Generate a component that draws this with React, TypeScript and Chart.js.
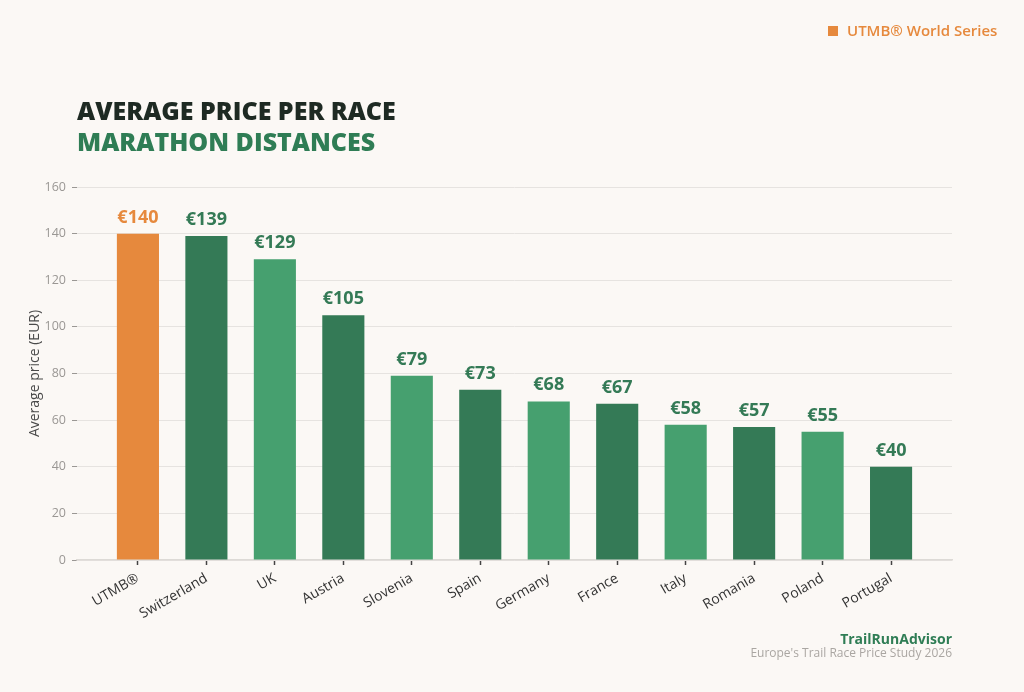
import React, { useEffect, useRef } from "react";
import { Chart, registerables } from "chart.js";

Chart.register(...registerables);

const categories = ["UTMB®", "Switzerland", "UK", "Austria", "Slovenia", "Spain", "Germany", "France", "Italy", "Romania", "Poland", "Portugal"];
const prices = [140, 139, 129, 105, 79, 73, 68, 67, 58, 57, 55, 40];
const yTicks = [0, 20, 40, 60, 80, 100, 120, 140, 160];

const ORANGE = "#E6893D";
const DARK_GREEN = "#347A56";
const LIGHT_GREEN = "#46A06F";
const BG = "#FBF8F5";
const FONT = "'Open Sans', 'DejaVu Sans', sans-serif";

const barColors = categories.map((_, i) => (i === 0 ? ORANGE : i % 2 === 1 ? DARK_GREEN : LIGHT_GREEN));
const labelColors = categories.map((_, i) => (i === 0 ? ORANGE : DARK_GREEN));

const valueLabels = {
  id: "valueLabels",
  afterDatasetsDraw(chart: any) {
    const ctx = chart.ctx;
    const meta = chart.getDatasetMeta(0);
    ctx.save();
    ctx.font = `700 18px ${FONT}`;
    ctx.textAlign = "center";
    ctx.textBaseline = "alphabetic";
    meta.data.forEach((bar: any, i: number) => {
      ctx.fillStyle = labelColors[i];
      ctx.fillText(`€${prices[i]}`, bar.x, bar.y - 11);
    });
    ctx.restore();
  },
};

export default function App() {
  const ref = useRef<HTMLCanvasElement | null>(null);

  useEffect(() => {
    if (!ref.current) return;
    const chart = new Chart(ref.current, {
      type: "bar",
      data: {
        datasets: [
          {
            data: prices.map((v, i) => ({ x: i, y: v })),
            backgroundColor: barColors,
            borderWidth: 0,
            categoryPercentage: 1,
            barPercentage: 0.615,
          },
        ],
      },
      options: {
        animation: false,
        responsive: false,
        maintainAspectRatio: false,
        layout: { padding: { left: 27, right: 72, top: 187, bottom: 32 } },
        plugins: { legend: { display: false }, tooltip: { enabled: false } },
        scales: {
          x: {
            type: "linear",
            offset: false,
            min: -0.89,
            max: 11.89,
            afterBuildTicks: (scale: any) => {
              scale.ticks = categories.map((_, i) => ({ value: i }));
            },
            afterFit: (scale: any) => {
              scale.height = 100;
            },
            ticks: {
              autoSkip: false,
              minRotation: 30,
              maxRotation: 30,
              padding: 5,
              color: "#333333",
              font: { family: FONT, size: 14 },
              callback: (v: any) => categories[v] ?? "",
            },
            grid: { offset: false, drawOnChartArea: false, drawTicks: true, tickLength: 5, tickColor: "#444444", tickWidth: 1.5 },
            border: { display: true, color: "#DDDAD6", width: 1.5 },
          },
          y: {
            min: 0,
            max: 160,
            afterBuildTicks: (scale: any) => {
              scale.ticks = yTicks.map((v) => ({ value: v }));
            },
            afterFit: (scale: any) => {
              scale.width = 50;
            },
            ticks: {
              padding: 6,
              color: "#9A9794",
              font: { family: FONT, size: 12.5 },
            },
            grid: { color: "#E6E3E0", lineWidth: 1, tickLength: 5, tickColor: "#9A9794" },
            border: { display: false },
            title: {
              display: true,
              text: "Average price (EUR)",
              color: "#4A4A4A",
              font: { family: FONT, size: 14 },
              padding: { top: 0, bottom: 0 },
            },
          },
        },
      },
      plugins: [valueLabels],
    } as any);
    return () => chart.destroy();
  }, []);

  return (
    <div style={{ position: "absolute", left: 0, top: 0, width: 1024, height: 692, background: BG, fontFamily: FONT, overflow: "hidden" }}>
      <canvas ref={ref} width={1024} height={692} style={{ position: "absolute", left: 0, top: 0, width: 1024, height: 692 }} />
      <div style={{ position: "absolute", left: 828, top: 26, width: 10, height: 10, background: ORANGE }} />
      <div style={{ position: "absolute", left: 847, top: 20, fontSize: 15, fontWeight: 600, color: ORANGE, whiteSpace: "nowrap", lineHeight: "20px" }}>
        UTMB® World Series
      </div>
      <div style={{ position: "absolute", left: 77, top: 95, fontSize: 25, fontWeight: 800, color: "#1E2A23", whiteSpace: "nowrap", lineHeight: "30px" }}>
        AVERAGE PRICE PER RACE
      </div>
      <div style={{ position: "absolute", left: 77, top: 126, fontSize: 25, fontWeight: 800, color: "#2F7D55", whiteSpace: "nowrap", lineHeight: "30px" }}>
        MARATHON DISTANCES
      </div>
      <div style={{ position: "absolute", right: 72, top: 630, fontSize: 14, fontWeight: 700, color: "#2F7D55", whiteSpace: "nowrap", lineHeight: "18px", textAlign: "right" }}>
        TrailRunAdvisor
      </div>
      <div style={{ position: "absolute", right: 72, top: 645, fontSize: 12, color: "#AAA6A2", whiteSpace: "nowrap", lineHeight: "16px", textAlign: "right" }}>
        Europe's Trail Race Price Study 2026
      </div>
    </div>
  );
}
